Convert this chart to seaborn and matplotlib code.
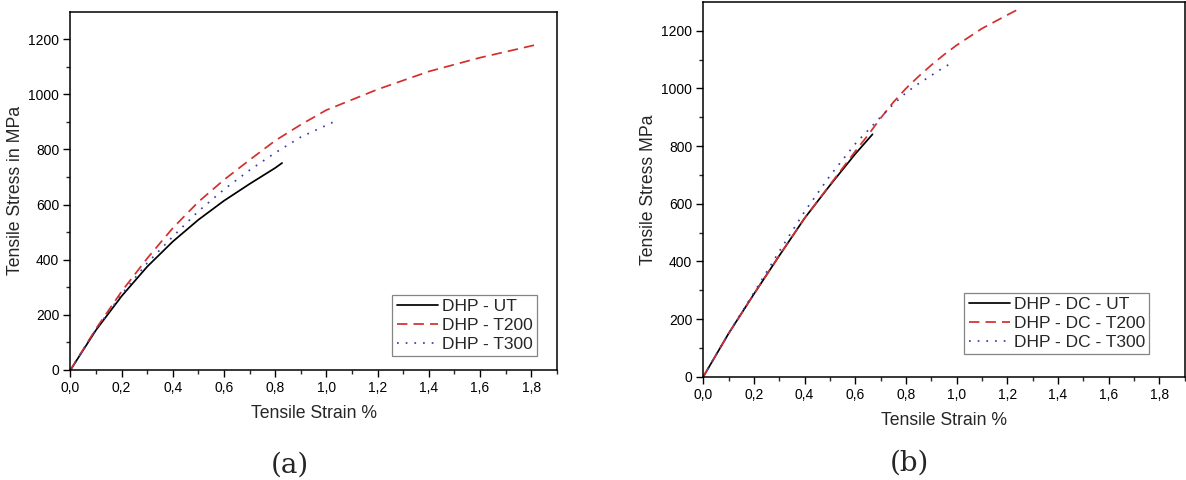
import numpy as np
import pandas as pd
import matplotlib
matplotlib.use("Agg")
import matplotlib.pyplot as plt
import matplotlib.ticker as mticker
import seaborn as sns

# -------------------------
# Data (strain %, stress MPa)
# -------------------------
a_ut_x = [0.0, 0.1, 0.2, 0.3, 0.4, 0.5, 0.6, 0.7, 0.8, 0.827]
a_ut_y = [0, 145, 268, 375, 466, 545, 614, 675, 733, 751]
a_t200_x = [0.0, 0.1, 0.2, 0.3, 0.4, 0.5, 0.6, 0.7, 0.8, 0.9, 1.0, 1.2, 1.4, 1.6, 1.82]
a_t200_y = [0, 150, 285, 405, 515, 610, 690, 762, 832, 890, 943, 1018, 1083, 1133, 1180]
a_t300_x = [0.0, 0.1, 0.2, 0.3, 0.4, 0.5, 0.6, 0.7, 0.8, 0.9, 1.04]
a_t300_y = [0, 147, 275, 388, 484, 576, 655, 725, 788, 845, 905]

b_ut_x = [0.0, 0.1, 0.2, 0.3, 0.4, 0.5, 0.6, 0.668]
b_ut_y = [0, 150, 287, 420, 550, 664, 773, 841]
b_t200_x = [0.0, 0.1, 0.2, 0.3, 0.4, 0.5, 0.6, 0.65, 0.7, 0.75, 0.8,
            0.85, 0.9, 0.95, 1.0, 1.1, 1.2, 1.244]
b_t200_y = [0, 150, 287, 420, 550, 666, 782, 838, 897, 952, 1000,
            1042, 1081, 1117, 1150, 1208, 1255, 1275]
b_t300_x = [0.0, 0.1, 0.2, 0.3, 0.4, 0.5, 0.6, 0.7, 0.75, 0.8, 0.85, 0.9, 0.94, 0.971]
b_t300_y = [0, 150, 292, 435, 573, 697, 808, 901, 945, 985, 1017, 1045, 1068, 1084]

labels_a = ["DHP - UT", "DHP - T200", "DHP - T300"]
labels_b = ["DHP - DC - UT", "DHP - DC - T200", "DHP - DC - T300"]

colors = ["black", "#d32f2f", "#3c3ca8"]
styles = ["-", (0, (6, 3.5)), (0, (1, 4))]

# -------------------------
# Style
# -------------------------
sns.set_style("ticks")
plt.rcParams['font.family'] = ['Liberation Sans', 'DejaVu Sans']

fig = plt.figure(figsize=(11.86, 4.8), dpi=100)
ax_a = fig.add_axes([0.0594, 0.2292, 0.4100, 0.7465])
ax_b = fig.add_axes([0.5930, 0.2152, 0.4058, 0.7806])

comma = mticker.FuncFormatter(lambda v, p: f"{v:.1f}".replace(".", ","))


def draw_panel(ax, series, labels, ylabel, leg_anchor):
    for (xs, ys), lab, c, ls in zip(series, labels, colors, styles):
        sns.lineplot(x=xs, y=ys, ax=ax, color=c, linestyle=ls, linewidth=1.25,
                     label=lab, sort=False, estimator=None)
    ax.set_xlim(0, 1.9)
    ax.set_ylim(0, 1300)
    ax.xaxis.set_major_locator(mticker.FixedLocator([0, 0.2, 0.4, 0.6, 0.8, 1.0, 1.2, 1.4, 1.6, 1.8]))
    ax.xaxis.set_minor_locator(mticker.FixedLocator([0.1, 0.3, 0.5, 0.7, 0.9, 1.1, 1.3, 1.5, 1.7, 1.9]))
    ax.yaxis.set_major_locator(mticker.FixedLocator([0, 200, 400, 600, 800, 1000, 1200]))
    ax.yaxis.set_minor_locator(mticker.FixedLocator(range(100, 1300, 200)))
    ax.xaxis.set_major_formatter(comma)
    ax.tick_params(which="major", direction="out", length=5, width=1,
                   labelsize=10, colors="black", pad=3)
    ax.tick_params(which="minor", direction="out", length=3, width=1)
    for s in ax.spines.values():
        s.set_visible(True)
        s.set_linewidth(1.1)
        s.set_color("black")
    ax.set_xlabel("Tensile Strain %", fontsize=12.7, labelpad=7)
    ax.set_ylabel(ylabel, fontsize=12.7, labelpad=3)
    leg = ax.legend(loc="lower right", bbox_to_anchor=leg_anchor, fontsize=12.5,
                    frameon=True, fancybox=False, handlelength=2.4,
                    borderpad=0.25, labelspacing=0.2, handletextpad=0.2,
                    borderaxespad=0)
    leg.get_frame().set_edgecolor("#666666")
    leg.get_frame().set_linewidth(0.9)


draw_panel(ax_a, [(a_ut_x, a_ut_y), (a_t200_x, a_t200_y), (a_t300_x, a_t300_y)],
           labels_a, "Tensile Stress in MPa", (0.959, 0.039))
draw_panel(ax_b, [(b_ut_x, b_ut_y), (b_t200_x, b_t200_y), (b_t300_x, b_t300_y)],
           labels_b, "Tensile Stress MPa", (0.9267, 0.0606))

fig.text(290 / 1186, 1 - 465 / 480, "(a)", fontsize=20, family="DejaVu Serif",
         ha="center", va="center")
fig.text(909 / 1186, 1 - 463 / 480, "(b)", fontsize=20, family="DejaVu Serif",
         ha="center", va="center")

fig.savefig("out.png", dpi=100, facecolor="white")
